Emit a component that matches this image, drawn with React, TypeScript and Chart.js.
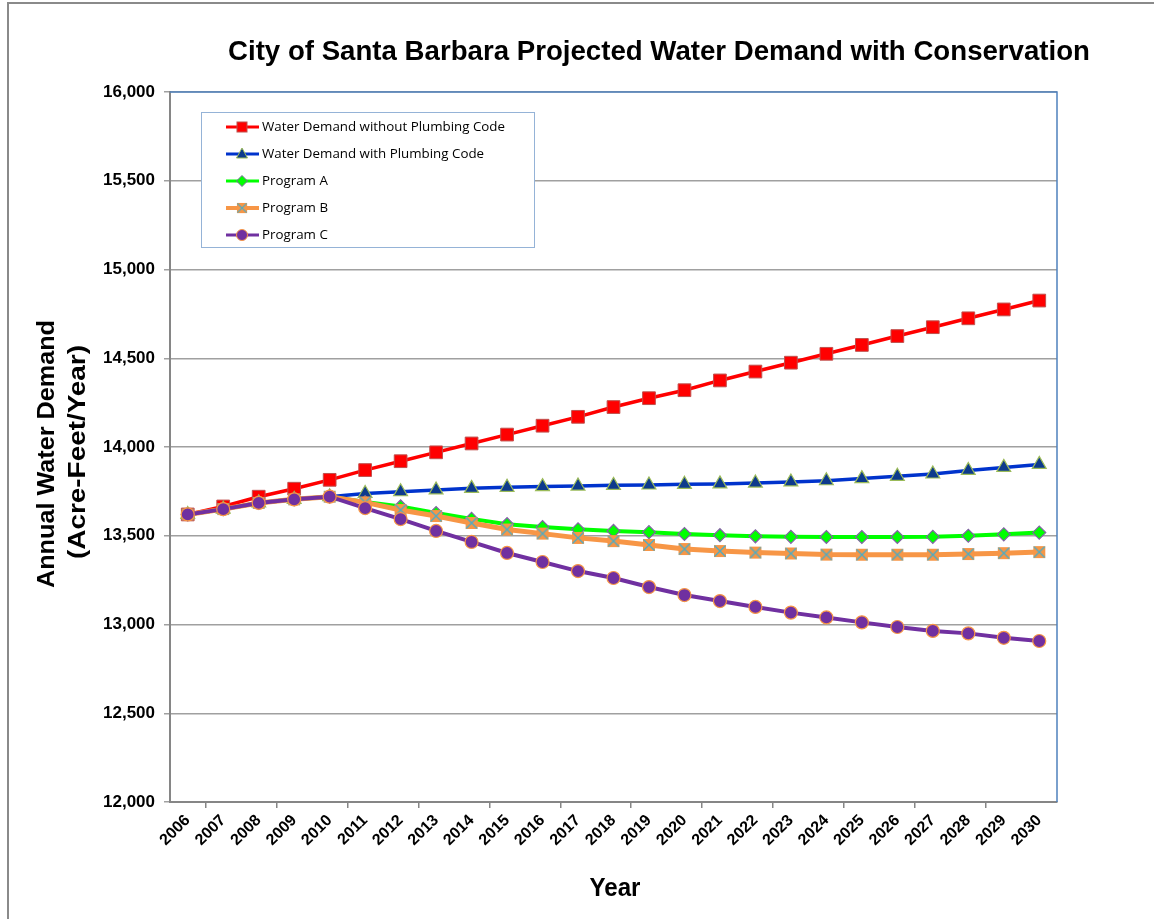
import React, { useEffect, useRef } from 'react';
import Chart from 'chart.js/auto';

const years = ['2006', '2007', '2008', '2009', '2010', '2011', '2012', '2013', '2014', '2015', '2016', '2017', '2018', '2019', '2020', '2021', '2022', '2023', '2024', '2025', '2026', '2027', '2028', '2029', '2030'];
const withoutPlumbingCode = [13620, 13665, 13720, 13765, 13815, 13870, 13920, 13970, 14020, 14070, 14120, 14170, 14225, 14275, 14320, 14375, 14425, 14475, 14525, 14575, 14625, 14675, 14725, 14775, 14825];
const withPlumbingCode = [13620, 13650, 13685, 13705, 13720, 13738, 13748, 13758, 13767, 13773, 13777, 13780, 13784, 13786, 13790, 13792, 13797, 13803, 13810, 13822, 13835, 13848, 13868, 13885, 13902];
const programA = [13620, 13650, 13685, 13705, 13720, 13690, 13665, 13628, 13595, 13565, 13549, 13536, 13527, 13520, 13510, 13503, 13497, 13494, 13493, 13493, 13493, 13494, 13500, 13508, 13518];
const programB = [13620, 13650, 13685, 13705, 13720, 13688, 13645, 13611, 13572, 13535, 13512, 13488, 13470, 13448, 13425, 13414, 13405, 13400, 13394, 13393, 13393, 13393, 13397, 13402, 13408];
const programC = [13620, 13650, 13685, 13705, 13720, 13656, 13594, 13527, 13465, 13403, 13352, 13301, 13262, 13211, 13166, 13132, 13099, 13067, 13040, 13012, 12986, 12964, 12950, 12925, 12907];
const seriesNames = ['Water Demand without Plumbing Code', 'Water Demand with Plumbing Code', 'Program A', 'Program B', 'Program C'];

const TITLE = 'City of Santa Barbara Projected Water Demand with Conservation';
const FONT = '"Liberation Sans", Arial, sans-serif';
const LEGEND_FONT = '13px "Open Sans", "Noto Sans", sans-serif';

function makeXSquare(): HTMLCanvasElement {
  const c = document.createElement('canvas');
  c.width = 14;
  c.height = 14;
  const g = c.getContext('2d')!;
  g.fillStyle = '#f79646';
  g.fillRect(1, 1, 12, 12);
  g.strokeStyle = '#4bacc6';
  g.lineWidth = 1.4;
  g.beginPath();
  g.moveTo(1.5, 1.5); g.lineTo(12.5, 12.5);
  g.moveTo(12.5, 1.5); g.lineTo(1.5, 12.5);
  g.stroke();
  return c;
}

function drawFit(ctx: CanvasRenderingContext2D, text: string, cx: number, cy: number, width: number, font: string, rot = 0) {
  ctx.save();
  ctx.font = font;
  ctx.fillStyle = '#000';
  ctx.textAlign = 'center';
  ctx.textBaseline = 'middle';
  const w = ctx.measureText(text).width;
  ctx.translate(cx, cy);
  ctx.rotate(rot);
  ctx.scale(width / w, 1);
  ctx.fillText(text, 0, 0);
  ctx.restore();
}

function drawMarker(ctx: CanvasRenderingContext2D, kind: string, x: number, y: number, xsq: HTMLCanvasElement) {
  ctx.save();
  ctx.lineWidth = 1;
  if (kind === 'square') {
    ctx.fillStyle = '#ff0000'; ctx.strokeStyle = '#c0504d';
    ctx.fillRect(x - 5, y - 5, 10, 10); ctx.strokeRect(x - 5, y - 5, 10, 10);
  } else if (kind === 'tri') {
    ctx.fillStyle = '#0d3a8c'; ctx.strokeStyle = '#9bbb59';
    ctx.beginPath(); ctx.moveTo(x, y - 6); ctx.lineTo(x + 5.5, y + 4); ctx.lineTo(x - 5.5, y + 4); ctx.closePath();
    ctx.fill(); ctx.stroke();
  } else if (kind === 'diamond') {
    ctx.fillStyle = '#00ff00'; ctx.strokeStyle = '#8064a2';
    ctx.beginPath(); ctx.moveTo(x, y - 5.5); ctx.lineTo(x + 5.5, y); ctx.lineTo(x, y + 5.5); ctx.lineTo(x - 5.5, y); ctx.closePath();
    ctx.fill(); ctx.stroke();
  } else if (kind === 'xsq') {
    ctx.drawImage(xsq, x - 6, y - 6, 12, 12);
  } else {
    ctx.fillStyle = '#7030a0'; ctx.strokeStyle = '#f79646';
    ctx.beginPath(); ctx.arc(x, y, 5.5, 0, Math.PI * 2); ctx.fill(); ctx.stroke();
  }
  ctx.restore();
}

export default function App() {
  const ref = useRef<HTMLCanvasElement>(null);
  useEffect(() => {
    document.body.style.margin = '0';
    const xsq = makeXSquare();
    const lineColors = ['#ff0000', '#0033cc', '#00ff00', '#f79646', '#7030a0'];
    const lineWidths = [3.5, 3.5, 4, 5, 4];
    const markerKinds = ['square', 'tri', 'diamond', 'xsq', 'circle'];

    const decor = {
      id: 'decor',
      beforeDatasetsDraw(chart: any) {
        const { ctx, chartArea: a } = chart;
        ctx.save();
        ctx.strokeStyle = '#4f81bd';
        ctx.lineWidth = 1.5;
        ctx.beginPath();
        ctx.moveTo(a.left, a.top);
        ctx.lineTo(a.right, a.top);
        ctx.lineTo(a.right, a.bottom);
        ctx.stroke();
        ctx.restore();
      },
      afterDraw(chart: any) {
        const { ctx } = chart;
        drawFit(ctx, TITLE, 659, 53, 862, `bold 27px ${FONT}`);
        drawFit(ctx, 'Annual Water Demand', 48, 454, 268, `bold 23px ${FONT}`, -Math.PI / 2);
        drawFit(ctx, '(Acre-Feet/Year)', 79, 452, 214, `bold 23px ${FONT}`, -Math.PI / 2);
        drawFit(ctx, 'Year', 615, 889, 51, `bold 25px ${FONT}`);
        // legend box
        ctx.save();
        ctx.fillStyle = '#ffffff';
        ctx.fillRect(201, 112, 333, 135);
        ctx.strokeStyle = '#95b3d7';
        ctx.lineWidth = 1;
        ctx.strokeRect(201.5, 112.5, 333, 135);
        ctx.font = LEGEND_FONT;
        const k = 243 / ctx.measureText(seriesNames[0]).width;
        for (let i = 0; i < seriesNames.length; i++) {
          const y = 127 + i * 27;
          ctx.strokeStyle = lineColors[i];
          ctx.lineWidth = i === 3 ? 4 : 3;
          ctx.beginPath();
          ctx.moveTo(226, y);
          ctx.lineTo(259, y);
          ctx.stroke();
          drawMarker(ctx, markerKinds[i], 242, y, xsq);
          ctx.save();
          ctx.fillStyle = '#000';
          ctx.font = LEGEND_FONT;
          ctx.textAlign = 'left';
          ctx.textBaseline = 'middle';
          ctx.translate(262, y);
          ctx.scale(k, 1);
          ctx.fillText(seriesNames[i], 0, 0);
          ctx.restore();
        }
        ctx.restore();
      },
    };

    const chart = new Chart(ref.current!, {
      type: 'line',
      data: {
        labels: years,
        datasets: [
          {
            label: seriesNames[0], data: withoutPlumbingCode, order: 4,
            borderColor: lineColors[0], borderWidth: lineWidths[0],
            pointStyle: 'rect', pointRadius: 9, pointBackgroundColor: '#ff0000', pointBorderColor: '#c0504d', pointBorderWidth: 1,
          },
          {
            label: seriesNames[1], data: withPlumbingCode, order: 3,
            borderColor: lineColors[1], borderWidth: lineWidths[1],
            pointStyle: 'triangle', pointRadius: 8, pointBackgroundColor: '#0d3a8c', pointBorderColor: '#9bbb59', pointBorderWidth: 1.2,
          },
          {
            label: seriesNames[2], data: programA, order: 2,
            borderColor: lineColors[2], borderWidth: lineWidths[2],
            pointStyle: 'rectRot', pointRadius: 6.5, pointBackgroundColor: '#00ff00', pointBorderColor: '#8064a2', pointBorderWidth: 1.2,
          },
          {
            label: seriesNames[3], data: programB, order: 1,
            borderColor: lineColors[3], borderWidth: lineWidths[3],
            pointStyle: xsq as any, pointRadius: 7,
          },
          {
            label: seriesNames[4], data: programC, order: 0,
            borderColor: lineColors[4], borderWidth: lineWidths[4],
            pointStyle: 'circle', pointRadius: 6.5, pointBackgroundColor: '#7030a0', pointBorderColor: '#f79646', pointBorderWidth: 1.2,
          },
        ],
      },
      options: {
        animation: false,
        responsive: false,
        devicePixelRatio: 1,
        layout: { padding: { left: 0, top: 92, right: 97, bottom: 0 } },
        plugins: {
          legend: { display: false },
          title: { display: false },
          tooltip: { enabled: false },
        },
        elements: { line: { tension: 0 } },
        scales: {
          x: {
            type: 'category',
            offset: true,
            afterFit: (s: any) => { s.height = 117; },
            grid: {
              offset: true,
              drawOnChartArea: false,
              drawTicks: true,
              tickLength: 6,
              lineWidth: 1.5,
              color: (c: any) => (c.index % 2 === 1 ? '#868686' : 'rgba(0,0,0,0)'),
            },
            border: { display: true, color: '#868686', width: 2 },
            ticks: {
              autoSkip: false,
              maxRotation: 45,
              minRotation: 45,
              padding: 3,
              color: '#000',
              font: { family: FONT, size: 16, weight: 'bold' },
            },
          },
          y: {
            min: 12000,
            max: 16000,
            afterFit: (s: any) => { s.width = 170; },
            ticks: {
              stepSize: 500,
              padding: 9,
              color: '#000',
              font: { family: FONT, size: 17, weight: 'bold' },
              callback: (v: any) => Number(v).toLocaleString('en-US'),
            },
            grid: { color: '#a0a0a0', lineWidth: 1.5, tickLength: 6, drawTicks: true },
            border: { display: true, color: '#868686', width: 2 },
          },
        },
      },
      plugins: [decor],
    });
    return () => chart.destroy();
  }, []);

  return (
    <div style={{ position: 'fixed', left: 0, top: 0, width: 1154, height: 919, background: '#fff' }}>
      <canvas ref={ref} width={1154} height={919} style={{ position: 'absolute', left: 0, top: 0 }} />
      <div style={{ position: 'absolute', left: 7, top: 2, right: 0, bottom: 0, borderTop: '2px solid #8a8a8a', borderLeft: '2px solid #8a8a8a', pointerEvents: 'none' }} />
    </div>
  );
}
